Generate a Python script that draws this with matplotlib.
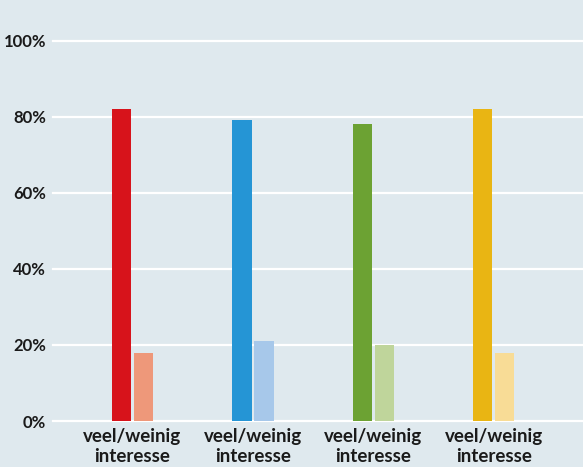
import matplotlib.pyplot as plt
import numpy as np

# Waarden per groep (in %)
groups = ["veel/weinig\ninteresse"] * 4
veel = [82, 79, 78, 82]
weinig = [18, 21, 20, 18]
dark_colors = ["#d7131b", "#2595d5", "#6ca233", "#e9b513"]
light_colors = ["#ee987a", "#a7c8ea", "#bfd59b", "#f8dc96"]
yticks = [0, 20, 40, 60, 80, 100]
ytick_labels = ["0%", "20%", "40%", "60%", "80%", "100%"]

bg = "#dfe9ee"
plt.rcParams['font.family'] = ['Lato', 'DejaVu Sans']

fig = plt.figure(figsize=(5.83, 4.67), dpi=100, facecolor=bg)
ax = fig.add_axes([53 / 583, 46 / 467, 530 / 583, 380.5 / 467])
ax.set_facecolor(bg)

x = np.arange(len(groups))
w = 0.158
off = 0.0913
ax.bar(x - off, veel, width=w, color=dark_colors, zorder=3)
ax.bar(x + off, weinig, width=w, color=light_colors, zorder=3)

ax.set_xlim(-0.66, 3.739)
ax.set_ylim(0, 100)
ax.set_yticks(yticks)
ax.set_yticklabels(ytick_labels, fontsize=12, fontweight='bold', color='#1a1a1a')
ax.set_xticks(x)
ax.set_xticklabels(groups, fontsize=13.5, fontweight='bold', color='#1a1a1a', linespacing=1.2)
ax.tick_params(length=0)
ax.tick_params(axis='y', pad=5)
ax.tick_params(axis='x', pad=5)

for y in yticks:
    ax.axhline(y, color='white', lw=1.6, zorder=1, clip_on=False)

for s in ax.spines.values():
    s.set_visible(False)

fig.savefig("out.png", dpi=100, facecolor=bg)
